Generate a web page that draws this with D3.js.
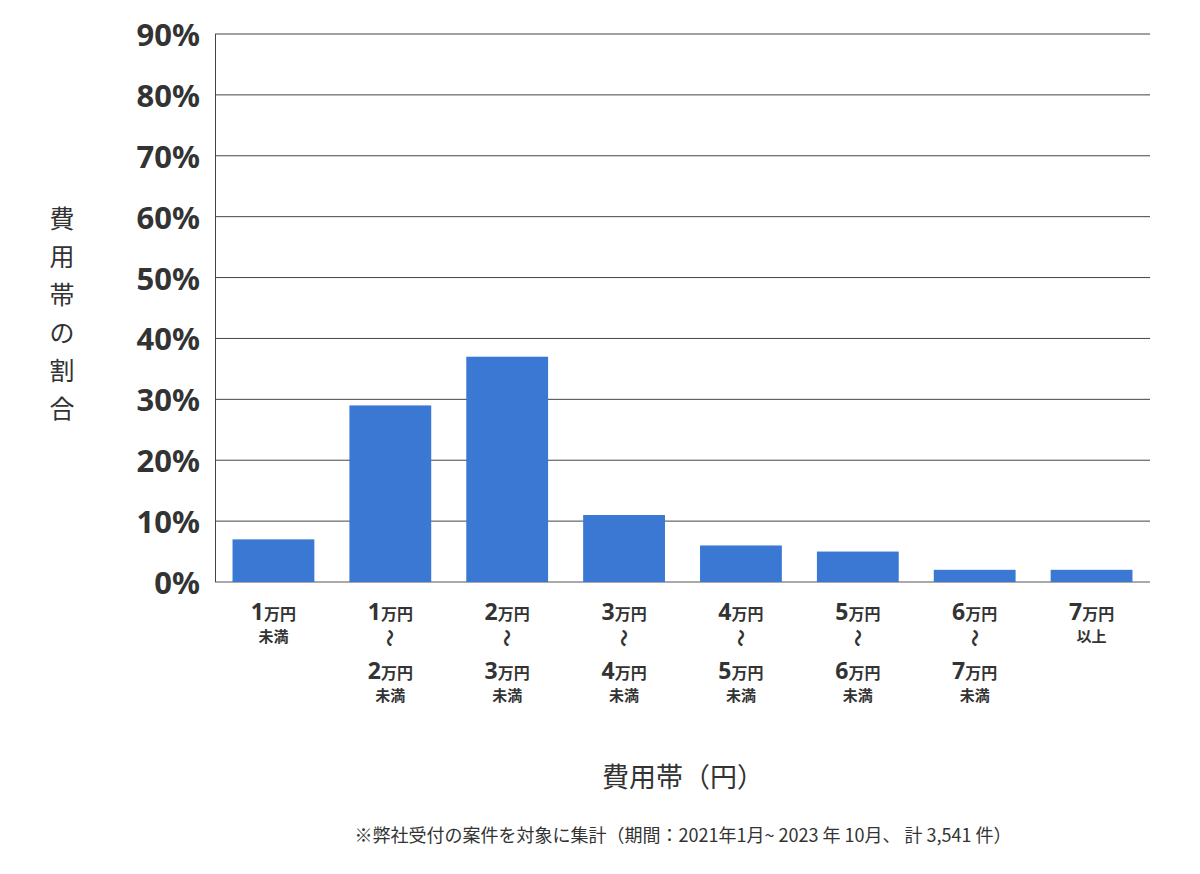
<!DOCTYPE html>
<html><head><meta charset="utf-8">
<script src="https://cdn.jsdelivr.net/npm/d3@7"></script>
<style>body{margin:0;background:#fff;font-family:"Noto Sans CJK JP","Noto Sans",sans-serif}</style>
</head><body><svg id="c" width="1200" height="874"></svg>
<script>
const categories=[["1","未満"],["1","～","2","未満"],["2","～","3","未満"],["3","～","4","未満"],["4","～","5","未満"],["5","～","6","未満"],["6","～","7","未満"],["7","以上"]];
const values=[7,29,37,11,6,5,2,2];
const yTicks=[0,10,20,30,40,50,60,70,80,90];
const svg=d3.select("#c");
const x=d3.scaleBand().domain(d3.range(values.length)).range([215,1150]).paddingInner(0.3).paddingOuter(0.15);
const y=d3.scaleLinear().domain([0,90]).range([582,34]);
const g=svg.append("g");
yTicks.forEach(t=>{g.append("line").attr("x1",215).attr("x2",1150).attr("y1",y(t)).attr("y2",y(t)).attr("stroke",t==0?"#555":"#444").attr("stroke-width",1);
 g.append("text").attr("x",200).attr("y",y(t)+12).attr("text-anchor","end").attr("font-size",31).attr("font-weight",700).attr("fill","#333").attr("font-family","Noto Sans, sans-serif").text(t+"%");});
g.append("line").attr("x1",215.5).attr("x2",215.5).attr("y1",34).attr("y2",582).attr("stroke","#444");
g.selectAll("rect").data(values).join("rect").attr("x",(d,i)=>x(i)).attr("width",x.bandwidth()).attr("y",d=>y(d)).attr("height",d=>582-y(d)).attr("fill","#3a78d4");
categories.forEach((c,i)=>{const cx=x(i)+x.bandwidth()/2;
 const line1=(n,yy)=>{const t=g.append("text").attr("x",cx).attr("y",yy).attr("text-anchor","middle").attr("fill","#333").attr("font-weight",700);
   t.append("tspan").attr("font-size",23).attr("font-family","Noto Sans, sans-serif").text(n);
   t.append("tspan").attr("font-size",16).text("万円");};
 const small=(s,yy)=>g.append("text").attr("x",cx).attr("y",yy).attr("text-anchor","middle").attr("font-size",15).attr("font-weight",700).attr("fill","#333").text(s);
 line1(c[0],620);
 if(c.length==2){small(c[1],642);}
 else{g.append("text").attr("x",cx).attr("y",645).attr("text-anchor","middle").attr("font-size",18).attr("font-weight",700).attr("fill","#333").attr("transform",`rotate(90,${cx},638)`).text("～");
   line1(c[2],679);small(c[3],701);}
});
const yl="費用帯の割合".split("");
yl.forEach((ch,i)=>svg.append("text").attr("x",62).attr("y",228+i*38).attr("text-anchor","middle").attr("font-size",25).attr("fill","#333").text(ch));
svg.append("text").attr("x",683).attr("y",787).attr("text-anchor","middle").attr("font-size",27).attr("fill","#333").text("費用帯（円）");
svg.append("text").attr("x",683).attr("y",842).attr("text-anchor","middle").attr("font-size",18).attr("fill","#333").text("※弊社受付の案件を対象に集計（期間：2021年1月~ 2023 年 10月、 計 3,541 件）");
</script></body></html>
